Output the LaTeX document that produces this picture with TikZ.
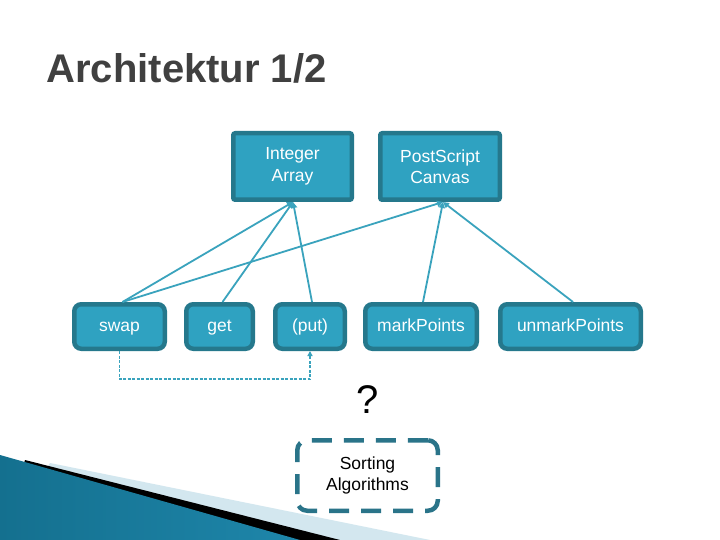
\documentclass[tikz,border=0pt]{standalone}
\usepackage{fontspec}
\setmainfont{Liberation Sans}
\usetikzlibrary{arrows.meta}
\definecolor{boxfill}{HTML}{2FA2C1}
\definecolor{boxline}{HTML}{25788C}
\definecolor{conn}{HTML}{3AA3BD}
\definecolor{titlegray}{HTML}{404040}
\definecolor{dashline}{HTML}{2A7489}
\definecolor{lightband}{HTML}{D3E7EF}
\definecolor{wedgedark}{HTML}{14708F}
\definecolor{wedgemid}{HTML}{45B2D6}
\definecolor{wedgeright}{HTML}{1E86AA}
\begin{document}
\begin{tikzpicture}[x=1pt,y=-1pt,
 topbox/.style={draw=boxline, fill=boxfill, line width=4.5pt, rounded corners=2pt, text=white,
   font=\fontsize{17.5}{21.5}\selectfont, align=center, inner sep=0pt, minimum height=66.5pt},
 botbox/.style={draw=boxline, fill=boxfill, line width=4.5pt, rounded corners=7pt, text=white,
   font=\fontsize{17.5}{21}\selectfont, inner sep=0pt, minimum height=44.5pt,
   text height=12.5pt, text depth=3.5pt},
 link/.style={draw=conn, line width=1.8pt, -{Triangle[length=6pt,width=6pt]}},
 dlink/.style={draw=conn, line width=1.5pt, dash pattern=on 3pt off 1.5pt, -{Triangle[length=5pt,width=5pt]}},
]
\useasboundingbox (0,0) rectangle (720,540);
\fill[white] (0,0) rectangle (720,540);
% bottom-left decoration
\fill[lightband] (50,463) -- (430,540) -- (0,540) -- cycle;
\fill[black] (25,460) -- (340,540) -- (0,540) -- cycle;
\shade[left color=wedgedark, middle color=wedgemid, right color=wedgeright] (0,455) -- (300,540) -- (0,540) -- cycle;
% title
\node[anchor=base west, font=\fontsize{40}{48}\selectfont\bfseries, text=titlegray] (title) at (43,83) {Architektur 1/2};
% top boxes
\node[topbox, minimum width=118.5pt] (ia) at (292.5,166.5) {Integer\\Array};
\node[topbox, minimum width=119.5pt] (ps) at (440,166.5) {PostScript\\Canvas};
% bottom boxes
\node[botbox, minimum width=90.5pt] (swap) at (119.5,326.5) {swap};
\node[botbox, minimum width=66.5pt] (get) at (219.5,326.5) {get};
\node[botbox, minimum width=69.5pt] (put) at (310,326.5) {(put)};
\node[botbox, minimum width=111.5pt] (mark) at (421,326.5) {markPoints};
\node[botbox, minimum width=140.5pt] (unmark) at (570.5,326.5) {unmarkPoints};
% links
\draw[link] ([xshift=3pt]swap.north) -- ([xshift=0.5pt]ia.south);
\draw[link] ([xshift=3pt]swap.north) -- ([xshift=3pt]ps.south);
\draw[link] ([xshift=3pt]get.north) -- ([xshift=0.5pt]ia.south);
\draw[link] ([xshift=2pt]put.north) -- ([xshift=0.5pt]ia.south);
\draw[link] ([xshift=2pt]mark.north) -- ([xshift=3pt]ps.south);
\draw[link] ([xshift=2.5pt]unmark.north) -- ([xshift=3pt]ps.south);
\draw[dlink] (swap.south) -- ++(0,28) -| (put.south);
% question mark
\node[anchor=base, font=\fontsize{40}{48}\selectfont] (q) at (368,413) {?};
% sorting algorithms
\node[draw=dashline, line width=4.5pt, dash pattern=on 20pt off 12pt, rounded corners=10pt,
  minimum width=140.5pt, minimum height=70.5pt, align=center, inner sep=0pt,
  font=\fontsize{17.5}{21.5}\selectfont] (sa) at (367.5,475.5) {Sorting\\Algorithms};
\end{tikzpicture}
\end{document}
